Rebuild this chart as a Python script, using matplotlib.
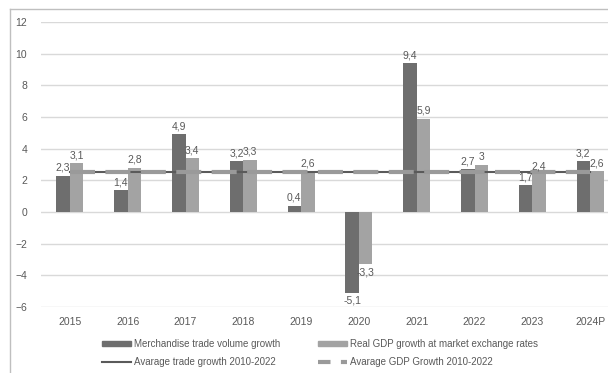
import numpy as np
import matplotlib.pyplot as plt
from matplotlib.lines import Line2D
from matplotlib.patches import Patch

# dados
anos = ['2015', '2016', '2017', '2018', '2019', '2020', '2021', '2022', '2023', '2024P']
comercio = [2.3, 1.4, 4.9, 3.2, 0.4, -5.1, 9.4, 2.7, 1.7, 3.2]
pib = [3.1, 2.8, 3.4, 3.3, 2.6, -3.3, 5.9, 3.0, 2.4, 2.6]
media_comercio = [2.5] * len(anos)
media_pib = [2.55] * len(anos)

cor_escura = '#6e6e6e'
cor_clara = '#a3a3a3'
cor_texto = '#595959'

plt.rcParams['font.family'] = ['Liberation Sans', 'DejaVu Sans']

fig = plt.figure(figsize=(6.08, 3.73), dpi=100)
ax = fig.add_axes([41 / 608, 66 / 373, 578 / 608, 285 / 373])

x = np.arange(len(anos))
w = 0.235

b1 = ax.bar(x - w / 2, comercio, w, color=cor_escura, zorder=2)
b2 = ax.bar(x + w / 2, pib, w, color=cor_clara, zorder=2)

ax.plot(x, media_comercio, color='#5a5a5a', lw=1.5, zorder=3)
ax.plot(x, media_pib, color='#9a9a9a', lw=3, dashes=(6, 2.5), zorder=3)


def rotulo(v):
    return ('%g' % v).replace('.', ',')


for barras, valores in [(b1, comercio), (b2, pib)]:
    for b, v in zip(barras, valores):
        cx = b.get_x() + b.get_width() / 2
        if v >= 0:
            ax.annotate(rotulo(v), (cx, v), xytext=(0, 2), textcoords='offset points',
                        ha='center', va='bottom', fontsize=7.5, color=cor_texto, zorder=4)
        else:
            ax.annotate(rotulo(v), (cx, v), xytext=(0, -2), textcoords='offset points',
                        ha='center', va='top', fontsize=7.5, color=cor_texto, zorder=4)

ax.set_xlim(-0.5, len(anos) - 0.5)
ax.set_ylim(-6, 12)
ax.set_yticks(range(-6, 13, 2))
ax.set_xticks(x)
ax.set_xticklabels(anos)
ax.grid(axis='y', color='#d9d9d9', lw=1, zorder=0)
for s in ax.spines.values():
    s.set_visible(False)
ax.tick_params(length=0, labelsize=7.5, labelcolor=cor_texto)
ax.tick_params(axis='y', pad=10)
ax.tick_params(axis='x', pad=7)

# moldura externa
fig.add_artist(Line2D([10 / 608, 10 / 608], [0, 1 - 9 / 373], color='#bfbfbf', lw=1))
fig.add_artist(Line2D([10 / 608, 1], [1 - 9 / 373, 1 - 9 / 373], color='#bfbfbf', lw=1))

handles = [Patch(color=cor_escura),
           Line2D([], [], color='#5a5a5a', lw=1.5),
           Patch(color=cor_clara),
           Line2D([], [], color='#9a9a9a', lw=3, dashes=(3, 2.5))]
labels = ['Merchandise trade volume growth',
          'Avarage trade growth 2010-2022',
          'Real GDP growth at market exchange rates',
          'Avarage GDP Growth 2010-2022']
leg = fig.legend(handles, labels, ncol=2, loc='center left',
                 bbox_to_anchor=(102 / 608, 20 / 373), borderpad=0, borderaxespad=0,
                 frameon=False, fontsize=7, handlelength=3.0, handleheight=0.5,
                 columnspacing=3.9, labelspacing=0.8, handletextpad=0.3)
for t in leg.get_texts():
    t.set_color(cor_texto)

fig.savefig('out.png', dpi=100)
